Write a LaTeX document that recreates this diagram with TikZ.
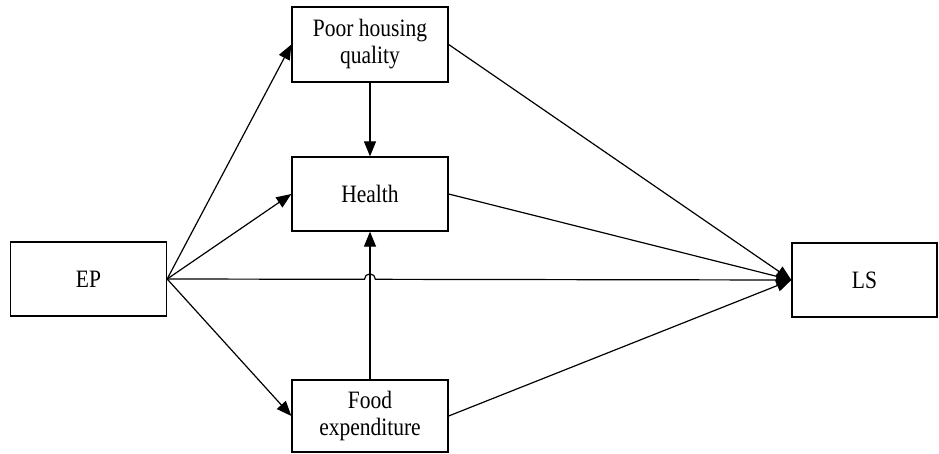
\documentclass[tikz,border=0pt]{standalone}
\usepackage{fontspec}
\setmainfont[FakeStretch=0.86]{Liberation Serif}
\usetikzlibrary{arrows.meta,calc}
\begin{document}
\begin{tikzpicture}[x=1pt,y=-1pt,
  box/.style={draw,line width=1.3pt,inner sep=0pt,align=center,
    font=\fontsize{25}{27}\selectfont},
  conn/.style={line width=1.2pt,-{Triangle[length=15pt,width=12pt]}}]
\useasboundingbox (0,0) rectangle (939,454);
\node[box,minimum width=156,minimum height=74] (EP) at (88.5,279) {EP};
\node[box,minimum width=156,minimum height=75] (PH) at (370,44.5) {Poor housing\\quality};
\node[box,minimum width=156,minimum height=74] (H) at (370,194) {Health};
\node[box,minimum width=156,minimum height=72] (F) at (370,416) {Food\\expenditure};
\node[box,minimum width=145,minimum height=74] (LS) at (864.5,280) {LS};
\draw[conn] (EP.east) -- (PH.west);
\draw[conn] (EP.east) -- (H.west);
\draw[conn] (EP.east) -- (F.west);
\draw[conn] (PH.south) -- (H.north);
\draw[conn] (F.north) -- (H.south);
\draw[conn] (PH.east) -- (LS.west);
\draw[conn] (H.east) -- (LS.west);
\draw[conn] (F.east) -- (LS.west);
\coordinate (X) at ($(EP.east)!(H.south)!(LS.west)$);
\draw[conn] (EP.east) -- ([xshift=-5.5pt]X) arc[start angle=180,end angle=0,radius=5.5pt] -- (LS.west);
\end{tikzpicture}
\end{document}
